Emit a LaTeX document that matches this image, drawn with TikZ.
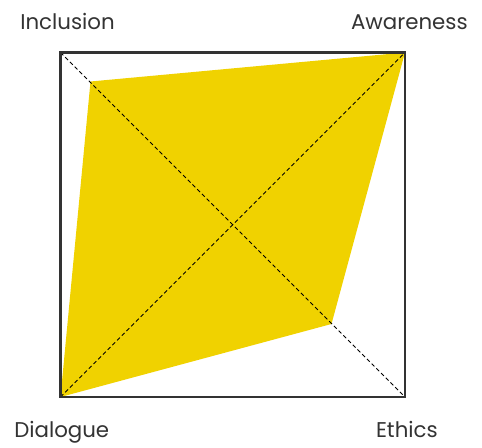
\documentclass[tikz,border=0pt]{standalone}
\usepackage{fontspec}
\setmainfont{Poppins}
\definecolor{ink}{HTML}{333333}
\definecolor{gold}{HTML}{F0D200}
\begin{document}
\begin{tikzpicture}[x=0.75pt,y=-0.75pt,
  lbl/.style={text=ink,font=\fontsize{16}{19}\selectfont,inner sep=0pt},
  frame/.style={draw=ink,line width=1.6pt},
  diag/.style={draw=black,line width=0.6pt,dash pattern=on 3pt off 2pt}]
\useasboundingbox (0,0) rectangle (482,448);
\coordinate (tl) at (60.5,52.5);
\coordinate (tr) at (405,52.5);
\coordinate (bl) at (60.5,397);
\coordinate (br) at (405,397);
\coordinate (pi) at (90.5,81.5);
\coordinate (pe) at (331.5,324);
\fill[gold] (pi) -- (tr) -- (pe) -- (bl) -- cycle;
\draw[diag] (tl) -- (br);
\draw[diag] (bl) -- (tr);
\draw[frame] (tl) rectangle (br);
\node[lbl,anchor=base west] (inc) at (20,30) {Inclusion};
\node[lbl,anchor=base east] (awa) at (468,30) {Awareness};
\node[lbl,anchor=base west] (dia) at (14,438) {Dialogue};
\node[lbl,anchor=base east] (eth) at (438,438) {Ethics};
\end{tikzpicture}
\end{document}
